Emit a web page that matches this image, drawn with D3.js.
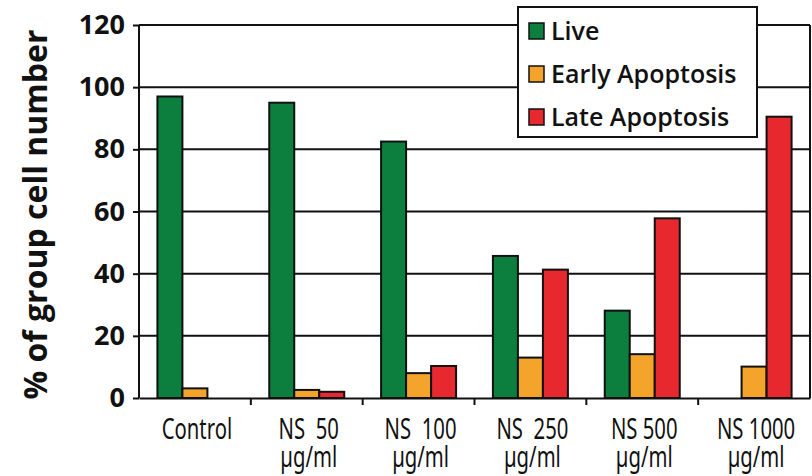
<!DOCTYPE html>
<html>
<head>
<meta charset="utf-8">
<script src="https://cdn.jsdelivr.net/npm/d3@7"></script>
<style>
  body { margin: 0; background: #fff; }
  svg { display: block; }
</style>
</head>
<body>
<svg id="chart" width="812" height="476"></svg>
<script>
// data
const groups = ["Control", "NS\u00a0\u00a050", "NS\u00a0\u00a0100", "NS\u00a0\u00a0250", "NS\u00a0500", "NS\u00a01000"];
const groupLine2 = ["", "µg/ml", "µg/ml", "µg/ml", "µg/ml", "µg/ml"];
const seriesNames = ["Live", "Early Apoptosis", "Late Apoptosis"];
const live = [97, 95, 82.5, 45.7, 28.1, 0];
const early = [3.1, 2.6, 8, 13, 14.1, 10.1];
const late = [0, 2, 10.3, 41.3, 57.8, 90.5];
const yTicks = [0, 20, 40, 60, 80, 100, 120];
const colors = ["#0c7e3e", "#f4a32b", "#e7282f"];

const svg = d3.select("#chart");
const margin = {left: 139, right: 2, top: 25, bottom: 78};
const W = 812, H = 476;

const x0 = d3.scaleBand().domain(groups).range([margin.left, W - margin.right]).paddingInner(0);
const y = d3.scaleLinear().domain([0, 120]).range([H - margin.bottom, margin.top]);
const barW = 25;
const x1 = d3.scaleBand().domain(seriesNames)
  .range([(x0.bandwidth() - barW * 3) / 2, (x0.bandwidth() + barW * 3) / 2]);

// gridlines
svg.append("g")
  .selectAll("line")
  .data(yTicks.filter(d => d > 0))
  .enter().append("line")
  .attr("x1", margin.left).attr("x2", W - margin.right)
  .attr("y1", d => y(d)).attr("y2", d => y(d))
  .attr("stroke", "#111").attr("stroke-width", 2);

// right border
svg.append("line")
  .attr("x1", W - margin.right).attr("x2", W - margin.right)
  .attr("y1", y(120)).attr("y2", y(0))
  .attr("stroke", "#111").attr("stroke-width", 2);

// bars
const table = groups.map((g, i) => ({group: g, values: [live[i], early[i], late[i]]}));
svg.append("g")
  .selectAll("g")
  .data(table)
  .enter().append("g")
  .attr("transform", d => `translate(${x0(d.group)},0)`)
  .selectAll("rect")
  .data(d => d.values.map((v, j) => ({key: seriesNames[j], value: v, c: colors[j]})).filter(d => d.value > 0))
  .enter().append("rect")
  .attr("x", d => x1(d.key))
  .attr("y", d => y(d.value))
  .attr("width", x1.bandwidth())
  .attr("height", d => y(0) - y(d.value))
  .attr("fill", d => d.c)
  .attr("stroke", "#111")
  .attr("stroke-width", 2);

// y axis
const yAxis = svg.append("g")
  .attr("transform", `translate(${margin.left},0)`)
  .call(d3.axisLeft(y).tickValues(yTicks).tickSize(6).tickPadding(8));
yAxis.selectAll("line, path").attr("stroke", "#111").attr("stroke-width", 2);
yAxis.select(".domain").attr("d", `M0,${y(0)}V${y(120)}`);
yAxis.selectAll("text")
  .attr("font-family", "'Open Sans', sans-serif")
  .attr("font-weight", 700)
  .attr("font-size", 27)
  .attr("fill", "#111");

// x axis
const xAxis = svg.append("g")
  .attr("transform", `translate(0,${y(0)})`)
  .call(d3.axisBottom(x0).tickSize(0).tickFormat(""));
xAxis.select(".domain").attr("stroke", "#111").attr("stroke-width", 2);
xAxis.selectAll(".tick").remove();
svg.append("g")
  .selectAll("line")
  .data(groups.slice(1))
  .enter().append("line")
  .attr("x1", d => x0(d)).attr("x2", d => x0(d))
  .attr("y1", y(0)).attr("y2", y(0) + 7)
  .attr("stroke", "#111").attr("stroke-width", 2);

// condensed category labels
const xl = svg.append("g")
  .selectAll("text")
  .data(groups)
  .enter().append("text")
  .attr("transform", d => `translate(${x0(d) + x0.bandwidth() / 2 + 2},0) scale(0.7,1)`)
  .attr("text-anchor", "middle")
  .attr("font-family", "'Noto Sans', sans-serif")
  .attr("font-size", 29)
  .attr("fill", "#111");
xl.append("tspan")
  .attr("x", 0)
  .attr("y", 439)
  .text(d => d);
xl.append("tspan")
  .attr("x", 0)
  .attr("y", 467)
  .text((d, i) => groupLine2[i]);

// y axis title
svg.append("text")
  .attr("transform", `translate(47,${y(59)}) rotate(-90)`)
  .attr("text-anchor", "middle")
  .attr("font-family", "'Open Sans', sans-serif")
  .attr("font-weight", 700)
  .attr("font-size", 32)
  .attr("fill", "#111")
  .text("% of group cell number");

// legend
const legend = svg.append("g").attr("transform", "translate(518,7)");
legend.append("rect")
  .attr("width", 239).attr("height", 130)
  .attr("fill", "#fff").attr("stroke", "#111").attr("stroke-width", 2);
const li = legend.selectAll(".li")
  .data(seriesNames)
  .enter().append("g")
  .attr("class", "li")
  .attr("transform", (d, i) => `translate(11,${16 + i * 43})`);
li.append("rect")
  .attr("width", 15).attr("height", 16)
  .attr("fill", (d, i) => colors[i])
  .attr("stroke", "#111").attr("stroke-width", 1.5);
li.append("text")
  .attr("x", 22).attr("y", 17)
  .attr("font-family", "'Open Sans', sans-serif")
  .attr("font-weight", 600)
  .attr("font-size", 25)
  .attr("fill", "#111")
  .text(d => d);
</script>
</body>
</html>
